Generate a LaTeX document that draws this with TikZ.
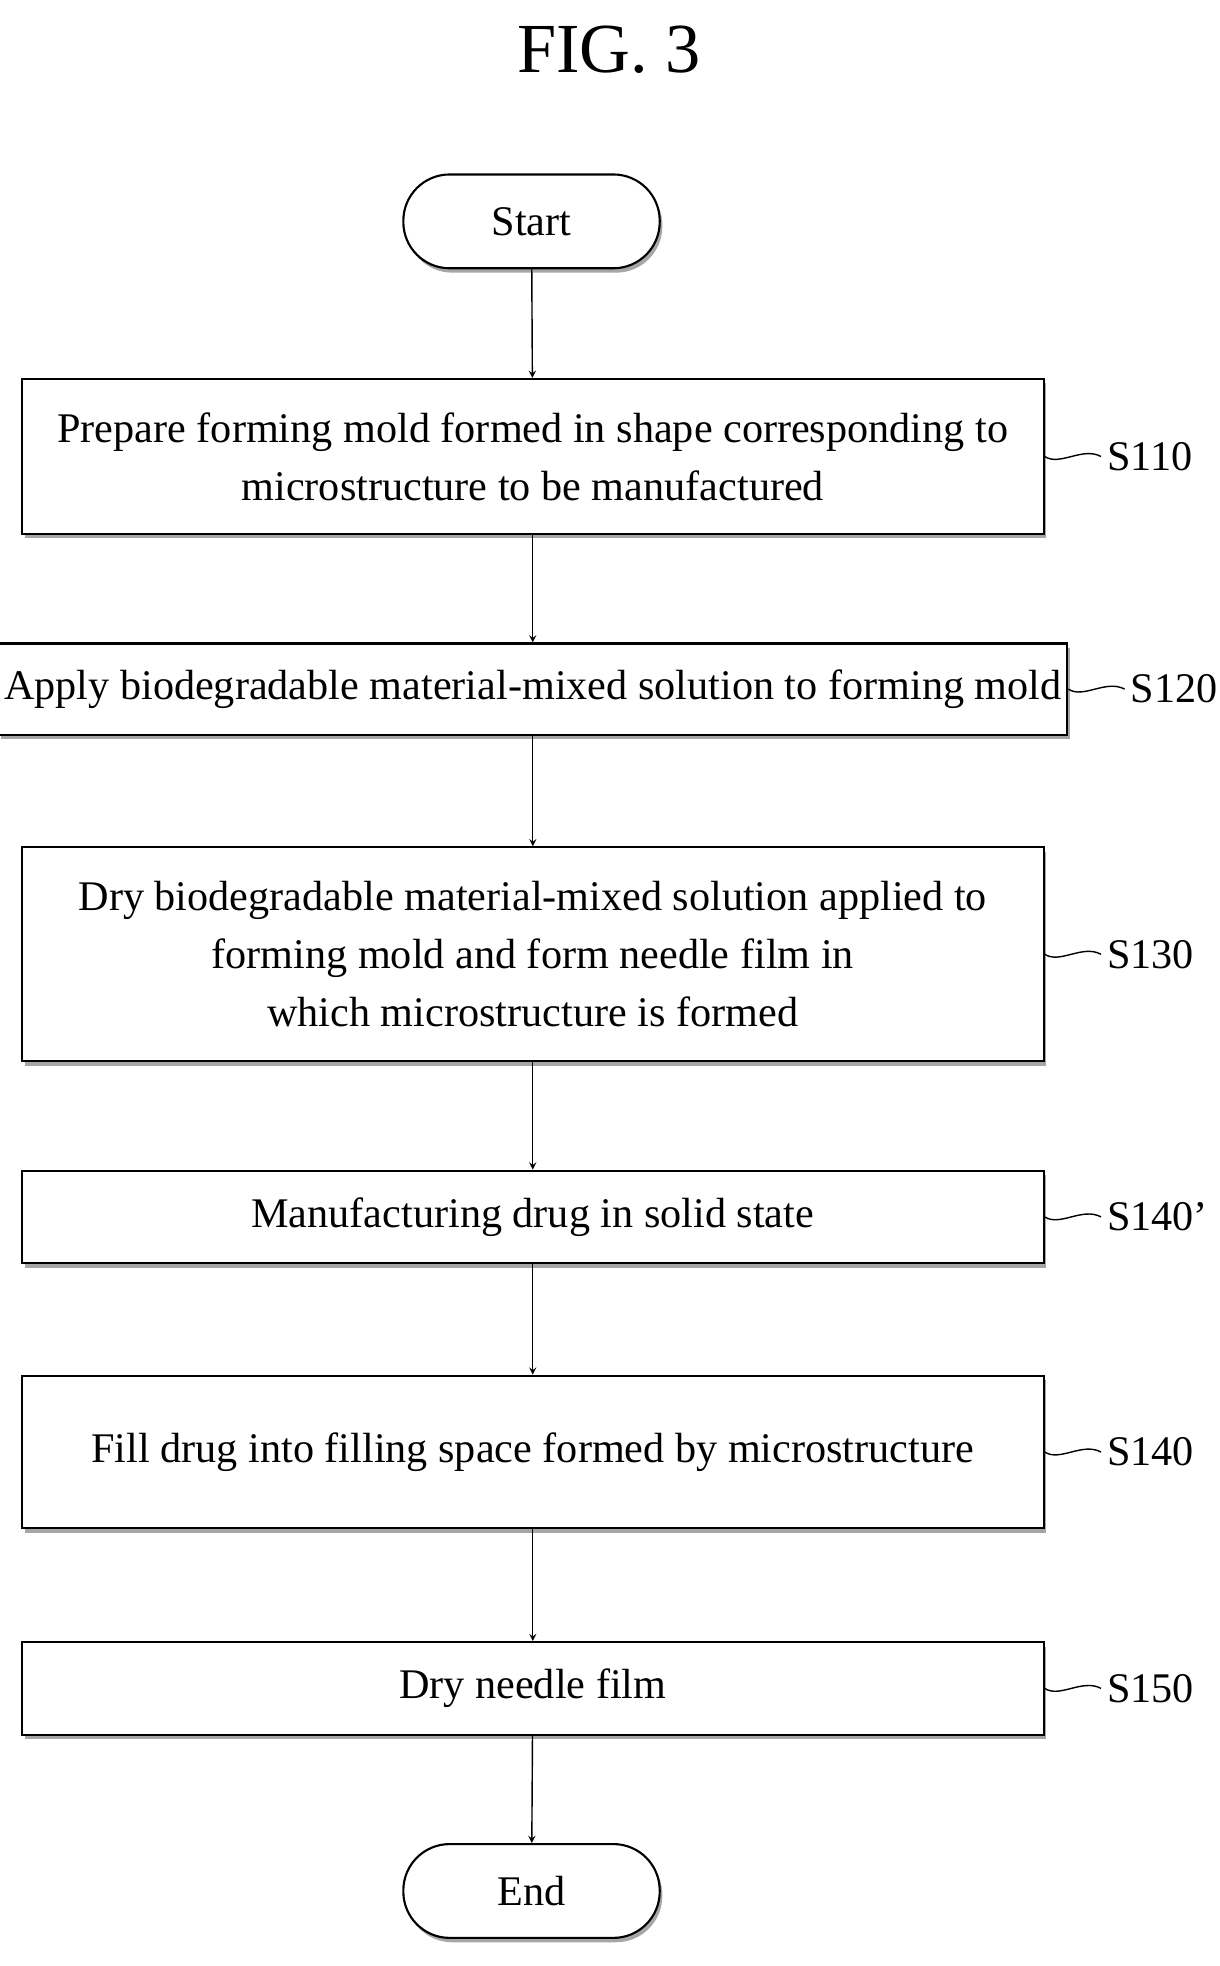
\documentclass[tikz,border=0pt]{standalone}
\usepackage{fontspec}
\setmainfont{Liberation Serif}
\usetikzlibrary{positioning,shadows}
\begin{document}
\begin{tikzpicture}[
    x = 0.025cm,
    y = -0.025cm,
    >=stealth,
    stepbox/.style = {draw, line width=1.2pt, minimum width=817*0.025cm, align=center,
              font=\fontsize{24}{33}\selectfont, fill=white,
              drop shadow={shadow xshift=1.5pt, shadow yshift=-2.5pt, fill=gray!70, opacity=1}},
    terminal/.style = {draw, line width=1.2pt, rounded corners=37*0.025cm, minimum width=205*0.025cm,
              minimum height=75*0.025cm, font=\fontsize{24}{33}\selectfont, fill=white,
              drop shadow={shadow xshift=1.5pt, shadow yshift=-2.5pt, fill=gray!70, opacity=1}},
    steplabel/.style = {font=\fontsize{24}{28}\selectfont, anchor=west},
    ]
\useasboundingbox (0,0) rectangle (975,1572);

\node[font=\fontsize{40}{44}\selectfont] (title) at (487,40){FIG. 3};

\node[terminal] (start) at (425,177){Start};
\node[stepbox, minimum height=124*0.025cm] (s110) at (426,365){Prepare forming mold formed in shape corresponding to\\microstructure to be manufactured};
\node[stepbox, minimum height=73*0.025cm] (s120) at (426,551){Apply biodegradable material-mixed solution to forming mold};
\node[stepbox, minimum height=171*0.025cm] (s130) at (426,763){Dry biodegradable material-mixed solution applied to\\forming mold and form needle film in\\which microstructure is formed};
\node[stepbox, minimum height=74*0.025cm] (s140p) at (426,973){Manufacturing drug in solid state};
\node[stepbox, minimum height=122*0.025cm] (s140) at (426,1161){Fill drug into filling space formed by microstructure};
\node[stepbox, minimum height=74*0.025cm] (s150) at (426,1350){Dry needle film};
\node[terminal] (end) at (425,1512){End};

% arrows
\draw [->, thick] (start) -- (s110);
\draw [->, thick] (s110) -- (s120);
\draw [->, thick] (s120) -- (s130);
\draw [->, thick] (s130) -- (s140p);
\draw [->, thick] (s140p) -- (s140);
\draw [->, thick] (s140) -- (s150);
\draw [->, thick] (s150) -- (end);

% step labels
\foreach \stp/\txt in {s110/S110, s120/S120, s130/S130, s140p/S140', s140/S140, s150/S150}{
  \node[steplabel] (lbl_\stp) at ([xshift=45*0.025cm]\stp.east){\txt};
  \draw [thick] (\stp.east) .. controls ([xshift=12*0.025cm, yshift=-8*0.025cm]\stp.east) and ([xshift=30*0.025cm, yshift=8*0.025cm]\stp.east) .. (lbl_\stp.west);
}

\end{tikzpicture}
\end{document}
